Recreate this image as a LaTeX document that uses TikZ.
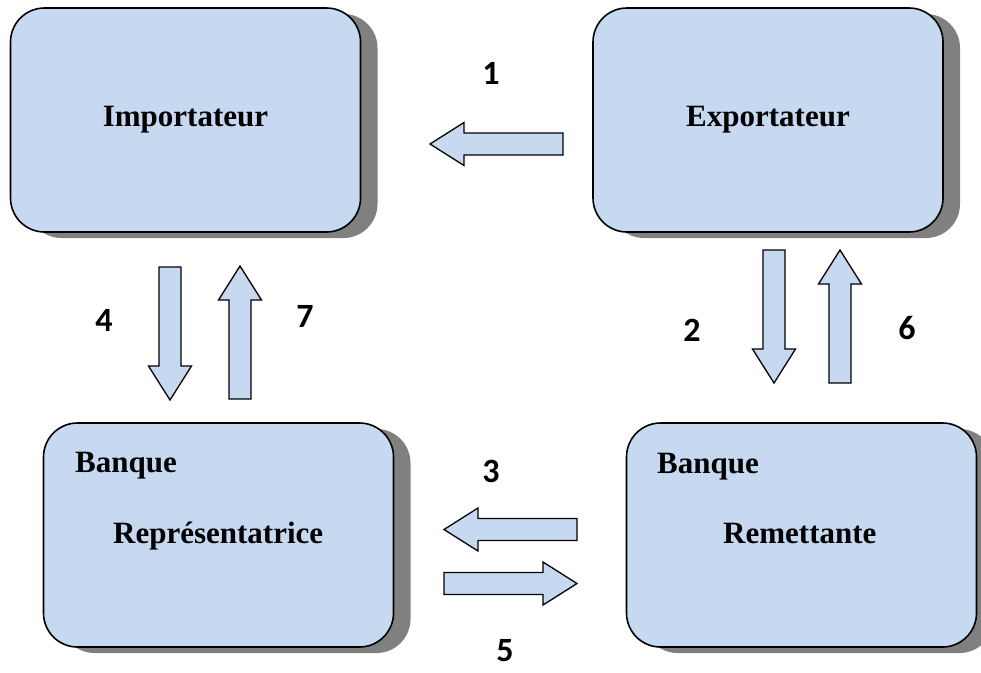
\documentclass[tikz,border=0pt]{standalone}
\usepackage{fontspec}
\setmainfont{Liberation Serif}
\newfontfamily\digitfont{Carlito}
\usetikzlibrary{shadows}
\definecolor{boxblue}{HTML}{C6D9F1}
\definecolor{shadowgray}{HTML}{808080}
\tikzset{
  party/.style={draw=black, line width=1.6pt, fill=boxblue,
    rounded corners=34pt, minimum width=350pt, minimum height=224pt,
    inner sep=0pt, font=\bfseries\fontsize{31}{37}\selectfont,
    drop shadow={shadow xshift=17pt, shadow yshift=-6pt,
      fill=shadowgray, opacity=1}},
  boxtext/.style={inner sep=0pt, anchor=base west,
    font=\bfseries\fontsize{31}{37}\selectfont},
  steplabel/.style={inner sep=0pt, font=\digitfont\bfseries\fontsize{34}{40}\selectfont},
  arrowline/.style={draw=black, line width=1.3pt, fill=boxblue, line join=miter},
  blockarrow/.pic={
    \draw[arrowline] (0,-11) -- (99,-11) -- (99,-21.5) -- (133,0)
      -- (99,21.5) -- (99,11) -- (0,11) -- cycle;
  }
}
\begin{document}
\begin{tikzpicture}[x=1pt, y=-1pt]
  \useasboundingbox (0,0) rectangle (981,672);

  % the four parties
  \node[party] (imp)  at (185.5,120) {Importateur};
  \node[party] (exp)  at (768,120)   {Exportateur};
  \node[party] (brep) at (218.5,535) {};
  \node[party] (brem) at (801.5,535) {};

  \node[boxtext] (brepA) at (75,472)  {Banque};
  \node[boxtext] (brepB) at (113,543) {Représentatrice};
  \node[boxtext] (bremA) at (657,473) {Banque};
  \node[boxtext] (bremB) at (723,543) {Remettante};

  % block arrows between the parties
  \pic[rotate=180] (a1) at (563,144)   {blockarrow};
  \pic[rotate=-90] (a4) at (170,267)   {blockarrow};
  \pic[rotate=90]  (a7) at (240,399)   {blockarrow};
  \pic[rotate=-90] (a2) at (774,250)   {blockarrow};
  \pic[rotate=90]  (a6) at (840,383)   {blockarrow};
  \pic[rotate=180] (a3) at (577,529.5) {blockarrow};
  \pic             (a5) at (444,583.5) {blockarrow};

  % step numbers
  \node[steplabel] (n1) at (491,73)  {1};
  \node[steplabel] (n2) at (692,330) {2};
  \node[steplabel] (n3) at (491,471) {3};
  \node[steplabel] (n4) at (104,320) {4};
  \node[steplabel] (n5) at (505,651) {5};
  \node[steplabel] (n6) at (907,328) {6};
  \node[steplabel] (n7) at (305,316) {7};
\end{tikzpicture}
\end{document}
